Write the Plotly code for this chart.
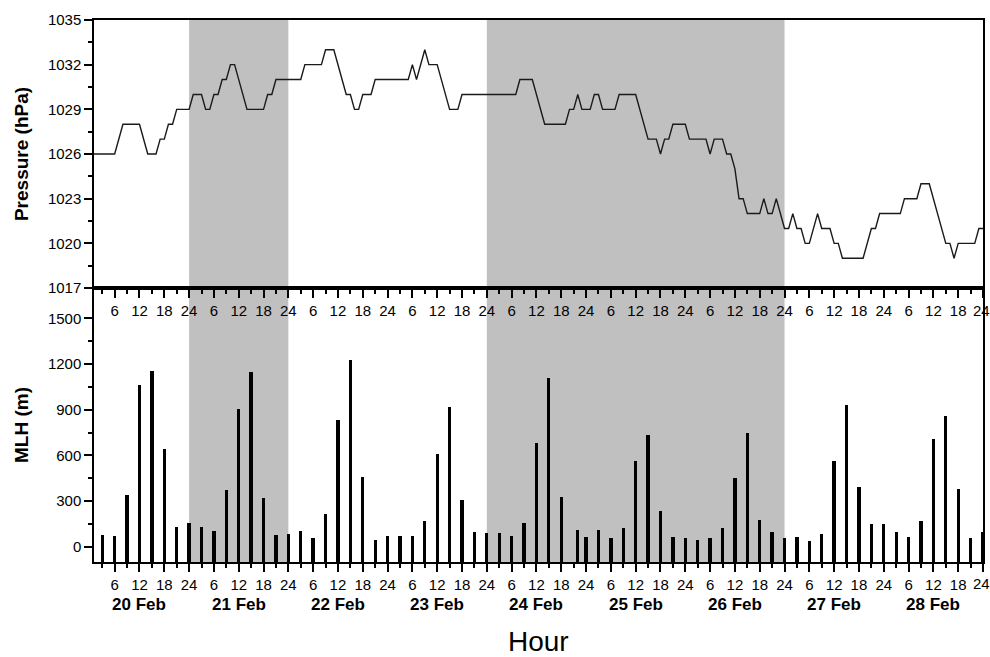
import plotly.graph_objects as go

# ---------------- data ----------------
# Pressure (hPa): vertices of the hourly trace (hour since 20 Feb 00:00)
P_HOURS = [1, 6, 8, 12, 14, 16, 17, 18, 19, 20, 21, 24, 25, 27, 28, 29, 30, 31, 32, 33,
           34, 35, 38, 42, 43, 44, 45, 51, 52, 56, 57, 59, 62, 63, 64, 65, 66, 68, 69, 77,
           78, 79, 81, 82, 84, 87, 89, 90, 103, 104, 107, 110, 115, 116, 117, 118, 119, 121,
           122, 123, 124, 127, 128, 132, 135, 137, 138, 139, 140, 141, 144, 145, 149, 150,
           151, 153, 154, 155, 156, 157, 158, 159, 162, 163, 164, 165, 166, 168, 169, 170,
           171, 172, 173, 174, 176, 177, 179, 180, 181, 182, 187, 189, 190, 191, 196, 197,
           200, 201, 203, 207, 208, 209, 210, 214, 215, 216]
P_VALUES = [1026, 1026, 1028, 1028, 1026, 1026, 1027, 1027, 1028, 1028, 1029, 1029, 1030, 1030,
            1029, 1029, 1030, 1030, 1031, 1031, 1032, 1032, 1029, 1029, 1030, 1030, 1031, 1031,
            1032, 1032, 1033, 1033, 1030, 1030, 1029, 1029, 1030, 1030, 1031, 1031, 1032, 1031,
            1033, 1032, 1032, 1029, 1029, 1030, 1030, 1031, 1031, 1028, 1028, 1029, 1029, 1030,
            1029, 1029, 1030, 1030, 1029, 1029, 1030, 1030, 1027, 1027, 1026, 1027, 1027, 1028,
            1028, 1027, 1027, 1026, 1027, 1027, 1026, 1026, 1025, 1023, 1023, 1022, 1022, 1023,
            1022, 1022, 1023, 1021, 1021, 1022, 1021, 1021, 1020, 1020, 1022, 1021, 1021, 1020,
            1020, 1019, 1019, 1021, 1021, 1022, 1022, 1023, 1023, 1024, 1024, 1020, 1020, 1019,
            1020, 1020, 1021, 1021]

# Mixing layer height (m), 3-hourly
MLH_HOURS = [3, 6, 9, 12, 15, 18, 21, 24, 27, 30, 33, 36, 39, 42, 45, 48, 51, 54, 57, 60,
             63, 66, 69, 72, 75, 78, 81, 84, 87, 90, 93, 96, 99, 102, 105, 108, 111, 114, 118,
             120, 123, 126, 129, 132, 135, 138, 141, 144, 147, 150, 153, 156, 159, 162, 165,
             168, 171, 174, 177, 180, 183, 186, 189, 192, 195, 198, 201, 204, 207, 210, 213, 216]
MLH_VALUES = [78, 72, 340, 1066, 1157, 642, 133, 153, 131, 105, 371, 908, 1148, 319, 79, 85,
              105, 57, 216, 836, 1229, 456, 46, 72, 72, 68, 166, 609, 917, 306, 94, 90, 90, 74,
              155, 683, 1107, 330, 109, 65, 111, 55, 122, 565, 736, 238, 61, 57, 46, 57, 122,
              452, 747, 177, 94, 59, 63, 39, 83, 565, 930, 391, 151, 148, 100, 61, 168, 705,
              858, 378, 57, 100]

DAY_LABELS = ["20 Feb", "21 Feb", "22 Feb", "23 Feb", "24 Feb", "25 Feb", "26 Feb", "27 Feb", "28 Feb"]
HOUR_TICK_LABELS = ["6", "12", "18", "24"] * 9
SHADED_PERIODS = [(24, 48), (96, 168)]

P_TICKS = [1017, 1020, 1023, 1026, 1029, 1032, 1035]
MLH_TICKS = [0, 300, 600, 900, 1200, 1500]

# ---------------- figure ----------------
FONT = "Arial, Liberation Sans, Helvetica, sans-serif"
MLH_BASE = -100
X_END = 216

fig = go.Figure()
fig.add_trace(go.Scatter(x=P_HOURS, y=P_VALUES, mode="lines",
                         line=dict(color="#1a1a1a", width=1.4),
                         xaxis="x", yaxis="y", showlegend=False))
fig.add_trace(go.Bar(x=MLH_HOURS, y=[v - MLH_BASE for v in MLH_VALUES], base=MLH_BASE,
                     width=0.8, marker=dict(color="black", line=dict(width=0)),
                     xaxis="x2", yaxis="y2", showlegend=False))

hour_tickvals = list(range(6, X_END + 1, 6))
xcommon = dict(range=[1, X_END], tickmode="array", tickvals=hour_tickvals,
               ticktext=HOUR_TICK_LABELS, ticks="outside", ticklen=8, tickwidth=1.5,
               tickcolor="black", showline=True, linecolor="black", linewidth=1.5,
               mirror=True, showgrid=False, zeroline=False, automargin=False,
               tickfont=dict(family=FONT, size=15, color="black"),
               minor=dict(ticks="outside", ticklen=4, tickwidth=1.5, tickcolor="black",
                          dtick=3, tick0=0, showgrid=False))
ycommon = dict(ticks="outside", ticklen=8, tickwidth=1.5, tickcolor="black",
               showline=True, linecolor="black", linewidth=1.5, mirror=True,
               showgrid=False, zeroline=False, automargin=False,
               tickfont=dict(family=FONT, size=15, color="black"))

split = 0.5055
fig.update_layout(
    width=990, height=657,
    margin=dict(l=94, r=7, t=20, b=95),
    paper_bgcolor="white", plot_bgcolor="rgba(0,0,0,0)",
    bargap=0,
    xaxis=dict(anchor="y", domain=[0, 1], **xcommon),
    xaxis2=dict(anchor="y2", domain=[0, 1], matches="x", **xcommon),
    yaxis=dict(anchor="x", domain=[split, 1], range=[1017, 1035], tickmode="array",
               tickvals=P_TICKS,
               minor=dict(ticks="outside", ticklen=4, tickwidth=1.5, tickcolor="black",
                          dtick=1.5, tick0=1017, showgrid=False),
               title=dict(text="<b>Pressure (hPa)</b>", standoff=14,
                          font=dict(family=FONT, size=19, color="black")),
               **ycommon),
    yaxis2=dict(anchor="x2", domain=[0, split], range=[-100, 1700], tickmode="array",
                tickvals=MLH_TICKS,
                minor=dict(ticks="outside", ticklen=4, tickwidth=1.5, tickcolor="black",
                           tickmode="array", tickvals=[150, 450, 750, 1050, 1350],
                           showgrid=False),
                title=dict(text="<b>MLH (m)</b>", standoff=14,
                           font=dict(family=FONT, size=19, color="black")),
                **ycommon),
)

for x0, x1 in SHADED_PERIODS:
    fig.add_shape(type="rect", xref="x", yref="paper", x0=x0, x1=x1, y0=0, y1=1,
                  fillcolor="#c0c0c0", line=dict(width=0), layer="below")

plot_h = 657 - 20 - 95
# last "24" tick label of each x axis (plotly hides it because it overhangs the page edge)
for py in (310.5, 583.5):
    fig.add_annotation(x=X_END, y=(562 - py) / plot_h, xref="x", yref="paper",
                       text=HOUR_TICK_LABELS[-1], showarrow=False, yanchor="middle",
                       xanchor="center", xshift=-2, borderpad=0,
                       font=dict(family=FONT, size=15, color="black"))

for i, lab in enumerate(DAY_LABELS):
    fig.add_annotation(x=12 + 24 * i, y=(562 - 604) / plot_h, xref="x2", yref="paper",
                       text=f"<b>{lab}</b>", showarrow=False, yanchor="middle",
                       font=dict(family=FONT, size=17, color="black"))
fig.add_annotation(x=0.5, y=(562 - 641) / plot_h, xref="paper", yref="paper",
                   text="Hour", showarrow=False, yanchor="middle", borderpad=0,
                   font=dict(family=FONT, size=28, color="black"))

fig.write_html("out.html")
